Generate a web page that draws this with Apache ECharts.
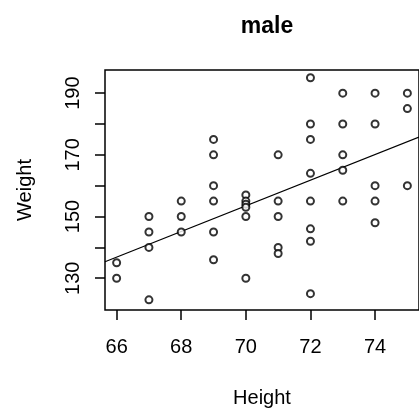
<!DOCTYPE html>
<html>
<head>
<meta charset="utf-8">
<script src="https://cdn.jsdelivr.net/npm/echarts@6/dist/echarts.min.js"></script>
<style>
  html, body { margin: 0; padding: 0; background: #fff; }
  #chart { width: 419px; height: 417px; }
</style>
</head>
<body>
<div id="chart"></div>
<script>
// Height (in) and weight (lb) of the male respondents
const heights = [
  66, 66,
  67, 67, 67, 67,
  68, 68, 68,
  69, 69, 69, 69, 69, 69,
  70, 70, 70, 70, 70, 70,
  71, 71, 71, 71, 71,
  72, 72, 72, 72, 72, 72, 72, 72,
  73, 73, 73, 73, 73,
  74, 74, 74, 74, 74,
  75, 75, 75
];
const weights = [
  135, 130,
  150, 145, 140, 123,
  155, 150, 145,
  175, 170, 160, 155, 145, 136,
  157, 155, 154, 153, 150, 130,
  170, 155, 150, 140, 138,
  195, 180, 175, 164, 155, 146, 142, 125,
  190, 180, 170, 165, 155,
  190, 180, 160, 155, 148,
  190, 185, 160
];

const xTicks = [66, 68, 70, 72, 74];
const yTicks = [130, 140, 150, 160, 170, 180, 190];
const yLabels = [130, 150, 170, 190];

// Axis limits: data range padded by 4% on each side
function padRange(v) {
  const lo = Math.min(...v), hi = Math.max(...v), d = (hi - lo) * 0.04;
  return [lo - d, hi + d];
}
const xRange = padRange(heights);
const yRange = [119.7, 197.5];

// Least-squares fit of weight on height
function fit(x, y) {
  const n = x.length;
  const mx = x.reduce((a, b) => a + b, 0) / n;
  const my = y.reduce((a, b) => a + b, 0) / n;
  let sxy = 0, sxx = 0;
  for (let i = 0; i < n; i++) {
    sxy += (x[i] - mx) * (y[i] - my);
    sxx += (x[i] - mx) * (x[i] - mx);
  }
  const b = sxy / sxx;
  return { a: my - b * mx, b: b };
}
const lm = fit(heights, weights);
const fitLine = xRange.map(h => [h, lm.a + lm.b * h]);

const points = heights.map((h, i) => [h, weights[i]]);
const FONT = '"Liberation Sans", Arial, sans-serif';

const chart = echarts.init(document.getElementById('chart'), null, { renderer: 'canvas' });
chart.setOption({
  backgroundColor: '#ffffff',
  animation: false,
  title: {
    text: 'male',
    left: 262, top: 10, textAlign: 'center',
    textStyle: { fontFamily: FONT, fontSize: 23, fontWeight: 'bold', color: '#000' }
  },
  grid: {
    left: 105, top: 70, width: 315, height: 240,
    show: true, borderColor: '#000', borderWidth: 1.5, backgroundColor: 'transparent'
  },
  xAxis: {
    type: 'value', min: xRange[0], max: xRange[1],
    name: 'Height', nameLocation: 'middle', nameGap: 78,
    nameTextStyle: { fontFamily: FONT, fontSize: 20, color: '#000' },
    splitLine: { show: false },
    axisLine: { show: false },
    axisTick: { show: true, length: 10, inside: false, customValues: xTicks, lineStyle: { color: '#000', width: 1.5 } },
    axisLabel: { customValues: xTicks, margin: 27, fontFamily: FONT, fontSize: 20, color: '#000' }
  },
  yAxis: {
    type: 'value', min: yRange[0], max: yRange[1],
    name: 'Weight', nameLocation: 'middle', nameGap: 70,
    nameTextStyle: { fontFamily: FONT, fontSize: 20, color: '#000' },
    splitLine: { show: false },
    axisLine: { show: false },
    axisTick: { show: true, length: 10, inside: false, customValues: yTicks, lineStyle: { color: '#000', width: 1.5 } },
    axisLabel: { customValues: yLabels, rotate: 90, margin: 22, fontFamily: FONT, fontSize: 20, color: '#000' }
  },
  series: [
    {
      type: 'scatter',
      data: points,
      symbol: 'emptyCircle',
      symbolSize: 7,
      itemStyle: { color: '#000', borderWidth: 1.2 },
      z: 3
    },
    {
      type: 'line',
      data: fitLine,
      showSymbol: false,
      symbol: 'none',
      clip: true,
      lineStyle: { color: '#000', width: 1.2 },
      z: 2
    }
  ]
});
</script>
</body>
</html>
